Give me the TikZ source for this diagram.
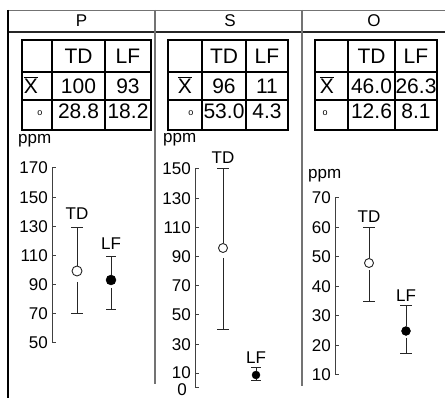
\documentclass[tikz,border=0pt]{standalone}
\usepackage{fontspec}
\setmainfont{Liberation Sans}
\begin{document}
\begin{tikzpicture}[x=1pt,y=-1pt,
  graylin/.style={draw=black!55, line width=1.4pt},
  darklin/.style={draw=black!85, line width=1.3pt},
  tbl/.style={draw=black, line width=1.2pt},
  axisl/.style={draw=black!75, line width=1pt},
  barl/.style={draw=black!85, line width=1pt},
  hdr/.style={font=\fontsize{17}{17}\selectfont, inner sep=0pt},
  cell/.style={font=\fontsize{21}{21}\selectfont, inner sep=0pt},
  sml/.style={font=\fontsize{9}{9}\selectfont, inner sep=0pt},
  axlab/.style={font=\fontsize{17}{17}\selectfont, inner sep=0pt, anchor=east},
  unitlab/.style={font=\fontsize{17}{17}\selectfont, inner sep=0pt, anchor=base west},
  serlab/.style={font=\fontsize{17}{17}\selectfont, inner sep=0pt},
  opendot/.style={circle, draw=black!85, fill=white, line width=0.9pt, minimum size=#1, inner sep=0pt},
  fulldot/.style={circle, draw=black, fill=black, minimum size=#1, inner sep=0pt}]
\useasboundingbox (0,0) rectangle (445,398);
% frame
\draw[graylin] (8,10.5) -- (445,10.5);
\draw[darklin] (8,32) -- (445,32);
\draw[draw=black, line width=1.2pt] (8,10) -- (8,398);
\draw[graylin] (155,10) -- (155,384);
\draw[graylin] (302,10) -- (302,386);
\node[hdr] (hP) at (81.5,21) {P};
\node[hdr] (hS) at (230,21) {S};
\node[hdr] (hO) at (374,21) {O};
% ---------- tables ----------
% P
\draw[tbl] (22,40) rectangle (151,130);
\draw[tbl] (52,40) -- (52,130) (105,40) -- (105,130) (22,72) -- (151,72) (22,100) -- (151,100);
\node[cell] (pTD) at (78.5,56) {TD};
\node[cell] (pLF) at (128,56) {LF};
\node[cell] (pX) at (31,85) {$\overline{\hbox{X}}$};
\node[cell] (pm1) at (78.5,86) {100};
\node[cell] (pm2) at (128,86) {93};
\node[sml] (po) at (40,113) {o};
\node[cell] (ps1) at (78.5,111) {28.8};
\node[cell] (ps2) at (128,111) {18.2};
% S
\draw[tbl] (168,40) rectangle (288,130);
\draw[tbl] (202,40) -- (202,130) (246,40) -- (246,130) (168,72) -- (288,72) (168,100) -- (288,100);
\node[cell] (sTD) at (224,56) {TD};
\node[cell] (sLF) at (267,56) {LF};
\node[cell] (sX) at (185,85) {$\overline{\hbox{X}}$};
\node[cell] (sm1) at (224,86) {96};
\node[cell] (sm2) at (267,86) {11};
\node[sml] (so) at (191,113) {o};
\node[cell] (ss1) at (224,111) {53.0};
\node[cell] (ss2) at (267,111) {4.3};
% O
\draw[tbl] (315,40) rectangle (437,130);
\draw[tbl] (348,40) -- (348,130) (395,40) -- (395,130) (315,72) -- (437,72) (315,100) -- (437,100);
\node[cell] (oTD) at (371.5,56) {TD};
\node[cell] (oLF) at (416,56) {LF};
\node[cell] (oX) at (327,85) {$\overline{\hbox{X}}$};
\node[cell] (om1) at (371.5,86) {46.0};
\node[cell] (om2) at (416,86) {26.3};
\node[sml] (oo) at (325,113) {o};
\node[cell] (os1) at (371.5,111) {12.6};
\node[cell] (os2) at (416,111) {8.1};
% ---------- chart P ----------
\node[unitlab] (pppm) at (18,144) {ppm};
\draw[axisl] (52,168) -- (52,343);
\foreach \v/\y in {170/168,150/197.2,130/226.4,110/255.6,90/284.8,70/314,50/343}{
  \draw[axisl] (52,\y) -- (56,\y);
  \node[axlab] at (48,\y) {\v};
}
\node[opendot=10pt] (pc1) at (77,271) {};
\draw[barl] (71,228) -- (83,228) (77,228) -- (pc1.north);
\draw[barl] (77,282) -- (77,314) (71,314) -- (83,314);
\node[serlab] (pl1) at (77,214) {TD};
\node[fulldot=10pt] (pc2) at (111,280) {};
\draw[barl] (106,257) -- (116,257) (111,257) -- (pc2.north);
\draw[barl] (111,288) -- (111,310) (106,310) -- (116,310);
\node[serlab] (pl2) at (111,244) {LF};
% ---------- chart S ----------
\node[unitlab] (sppm) at (163,143) {ppm};
\draw[axisl] (195,169) -- (195,388);
\foreach \v/\y in {150/169,130/198.2,110/227.4,90/256.6,70/285.8,50/315,30/344.2}{
  \draw[axisl] (195,\y) -- (199,\y);
  \node[axlab] at (191,\y) {\v};
}
\draw[axisl] (195,373.4) -- (199,373.4);
\node[axlab] at (191,372.5) {10};
\draw[axisl] (195,388) -- (199,388);
\node[axlab] at (187,390) {0};
\node[opendot=9pt] (sc1) at (223,248) {};
\draw[barl] (217,169) -- (229,169) (223,169) -- (sc1.north);
\draw[barl] (223,258) -- (223,330) (217,330) -- (229,330);
\node[serlab] (sl1) at (223,158) {TD};
\node[fulldot=8pt] (sc2) at (256,375) {};
\draw[barl] (251,368) -- (261,368) (256,368) -- (sc2.north);
\draw[barl] (256,379) -- (256,381) (251,381) -- (261,381);
\node[serlab] (sl2) at (256,358) {LF};
% ---------- chart O ----------
\node[unitlab] (oppm) at (308,179) {ppm};
\draw[axisl] (335,198) -- (335,375);
\foreach \v/\y in {70/198,60/227.5,50/257,40/286.5,30/316,20/345.5,10/375}{
  \draw[axisl] (335,\y) -- (339,\y);
  \node[axlab] at (331,\y) {\v};
}
\node[opendot=9pt] (oc1) at (369,263) {};
\draw[barl] (363,228) -- (375,228) (369,228) -- (oc1.north);
\draw[barl] (369,270) -- (369,302) (363,302) -- (375,302);
\node[serlab] (ol1) at (369,217) {TD};
\node[fulldot=9pt] (oc2) at (406,331) {};
\draw[barl] (400,306) -- (412,306) (406,306) -- (oc2.north);
\draw[barl] (406,338) -- (406,354) (400,354) -- (412,354);
\node[serlab] (ol2) at (406,296) {LF};
\end{tikzpicture}
\end{document}
